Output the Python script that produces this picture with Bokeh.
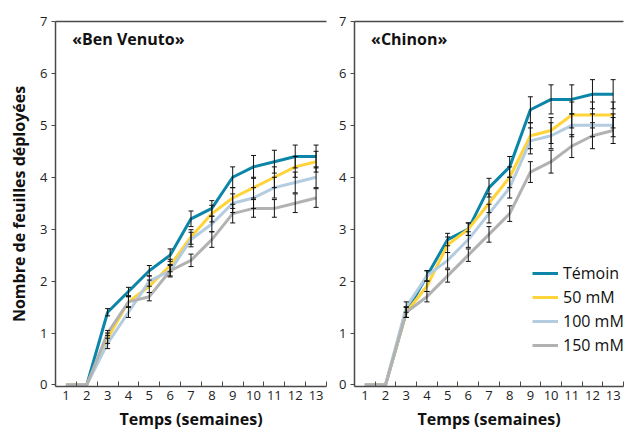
from bokeh.plotting import figure
from bokeh.layouts import row
from bokeh.models import (ColumnDataSource, Whisker, TeeHead, FixedTicker, LinearAxis,
                          Legend, LegendItem, Label, Range1d)
from bokeh.embed import file_html
from bokeh.resources import INLINE

weeks = list(range(1, 14))
week_labels = [str(w) for w in weeks]
series_names = ["Témoin", "50 mM", "100 mM", "150 mM"]
colors = ["#0b86a9", "#ffd43a", "#b3cce0", "#b2b2b2"]
x_title = "Temps (semaines)"
y_title = "Nombre de feuilles déployées"

# «Ben Venuto»
bv_temoin = [0, 0, 1.4, 1.8, 2.2, 2.5, 3.2, 3.4, 4.0, 4.2, 4.3, 4.4, 4.4]
bv_50 = [0, 0, 0.9, 1.6, 1.9, 2.3, 2.85, 3.3, 3.6, 3.8, 4.0, 4.2, 4.3]
bv_100 = [0, 0, 0.8, 1.4, 2.0, 2.2, 2.8, 3.1, 3.5, 3.6, 3.8, 3.9, 4.0]
bv_150 = [0, 0, 1.0, 1.6, 1.7, 2.2, 2.4, 2.8, 3.3, 3.4, 3.4, 3.5, 3.6]
bv_temoin_err = [0, 0, 0.07, 0.08, 0.1, 0.12, 0.15, 0.15, 0.2, 0.22, 0.22, 0.22, 0.22]
bv_50_err = [0, 0, 0.1, 0.1, 0.12, 0.12, 0.14, 0.16, 0.2, 0.2, 0.2, 0.2, 0.2]
bv_100_err = [0, 0, 0.1, 0.1, 0.1, 0.12, 0.14, 0.15, 0.18, 0.2, 0.2, 0.2, 0.2]
bv_150_err = [0, 0, 0.05, 0.1, 0.08, 0.1, 0.12, 0.15, 0.18, 0.17, 0.17, 0.18, 0.18]

# «Chinon»
ch_temoin = [0, 0, 1.4, 2.1, 2.8, 3.0, 3.8, 4.2, 5.3, 5.5, 5.5, 5.6, 5.6]
ch_50 = [0, 0, 1.4, 1.9, 2.7, 3.0, 3.5, 4.0, 4.8, 4.9, 5.2, 5.2, 5.2]
ch_100 = [0, 0, 1.5, 2.1, 2.4, 2.8, 3.3, 3.8, 4.7, 4.8, 5.0, 5.0, 5.0]
ch_150 = [0, 0, 1.4, 1.7, 2.1, 2.5, 2.9, 3.3, 4.1, 4.3, 4.6, 4.8, 4.9]
ch_temoin_err = [0, 0, 0.1, 0.1, 0.12, 0.12, 0.18, 0.2, 0.25, 0.28, 0.28, 0.28, 0.28]
ch_50_err = [0, 0, 0.1, 0.1, 0.15, 0.12, 0.18, 0.2, 0.25, 0.25, 0.25, 0.25, 0.25]
ch_100_err = [0, 0, 0.1, 0.1, 0.15, 0.15, 0.18, 0.2, 0.25, 0.25, 0.22, 0.22, 0.22]
ch_150_err = [0, 0, 0.1, 0.1, 0.12, 0.12, 0.15, 0.15, 0.2, 0.22, 0.22, 0.25, 0.25]

FONT = "Open Sans"
AXIS_COLOR = "#4a4a4a"


def make_panel(title, values, errs, width, border_left, border_right, ylabel, with_legend, title_x):
    p = figure(width=width, height=432, x_range=Range1d(0.5, 13.5), y_range=Range1d(-0.03, 7),
               output_backend="svg", toolbar_location=None,
               min_border_left=border_left, min_border_right=border_right,
               min_border_top=21, min_border_bottom=45)
    p.xgrid.visible = False
    p.ygrid.visible = False
    p.outline_line_color = None
    p.background_fill_color = "white"

    # x axis: labels at integer weeks, small inward ticks between them
    xa = p.xaxis[0]
    xa.ticker = FixedTicker(ticks=weeks, minor_ticks=[w + 0.5 for w in range(1, 14)])
    xa.major_label_overrides = {w: lab for w, lab in zip(weeks, week_labels)}
    xa.major_tick_in = 0
    xa.major_tick_out = 0
    xa.minor_tick_in = 5
    xa.minor_tick_out = 0
    xa.minor_tick_line_color = AXIS_COLOR
    xa.axis_line_color = AXIS_COLOR
    xa.axis_line_width = 1.5
    xa.major_label_standoff = 4
    xa.major_label_text_font = FONT
    xa.major_label_text_font_size = "13px"
    xa.major_label_text_color = "#222222"
    xa.axis_label = x_title
    xa.axis_label_text_font = FONT
    xa.axis_label_text_font_style = "bold"
    xa.axis_label_text_font_size = "16px"
    xa.axis_label_text_color = "#111111"
    xa.axis_label_standoff = 5

    ya = p.yaxis[0]
    ya.ticker = FixedTicker(ticks=list(range(0, 8)))
    ya.major_tick_in = 0
    ya.major_tick_out = 4
    ya.major_tick_line_color = AXIS_COLOR
    ya.minor_tick_line_color = None
    ya.axis_line_color = AXIS_COLOR
    ya.axis_line_width = 1.5
    ya.major_label_standoff = 4
    ya.major_label_text_font = FONT
    ya.major_label_text_font_size = "13px"
    ya.major_label_text_color = "#222222"
    if ylabel:
        ya.axis_label = ylabel
        ya.axis_label_text_font = FONT
        ya.axis_label_text_font_style = "bold"
        ya.axis_label_text_font_size = "16px"
        ya.axis_label_text_color = "#111111"
        ya.axis_label_standoff = 7

    top = LinearAxis(ticker=FixedTicker(ticks=[]), axis_line_color=AXIS_COLOR, axis_line_width=1.5,
                     major_tick_in=0, major_tick_out=0, minor_tick_in=0, minor_tick_out=0,
                     major_label_text_font_size="0px")
    p.add_layout(top, "above")

    renderers = []
    for name, col, ys in zip(series_names, colors, values):
        r = p.line(weeks, ys, line_color=col, line_width=3)
        renderers.append(r)

    for ys, es in zip(values, errs):
        xs = [w for w, e in zip(weeks, es) if e > 0]
        lo = [y - e for y, e in zip(ys, es) if e > 0]
        hi = [y + e for y, e in zip(ys, es) if e > 0]
        src = ColumnDataSource(dict(x=xs, lower=lo, upper=hi))
        wk = Whisker(base="x", lower="lower", upper="upper", source=src, dimension="height",
                     line_color="#111111", line_width=1, level="overlay",
                     upper_head=TeeHead(size=5, line_color="#111111", line_width=1),
                     lower_head=TeeHead(size=5, line_color="#111111", line_width=1))
        p.add_layout(wk)

    p.add_layout(Label(x=title_x, y=6.88, text=title, text_font=FONT, text_font_style="bold",
                       text_font_size="16px", text_color="#111111", text_baseline="top",
                       text_align="left"))

    if with_legend:
        items = [LegendItem(label=n, renderers=[r]) for n, r in zip(series_names, renderers)]
        lg = Legend(items=items, location=(178, 30), border_line_color=None,
                    background_fill_alpha=0, label_text_font=FONT, label_text_font_size="16px",
                    label_text_color="#111111", glyph_width=26, glyph_height=20,
                    label_height=20, spacing=2, padding=0, margin=0, label_standoff=5)
        p.add_layout(lg)
    return p


p1 = make_panel("«Ben Venuto»", [bv_temoin, bv_50, bv_100, bv_150],
                [bv_temoin_err, bv_50_err, bv_100_err, bv_150_err],
                width=330, border_left=55, border_right=4,
                ylabel=y_title, with_legend=False, title_x=1.3)
p2 = make_panel("«Chinon»", [ch_temoin, ch_50, ch_100, ch_150],
                [ch_temoin_err, ch_50_err, ch_100_err, ch_150_err],
                width=295, border_left=24, border_right=2,
                ylabel=None, with_legend=True, title_x=1.3)

layout = row(p1, p2)
open("out.html", "w").write(file_html(layout, INLINE))
